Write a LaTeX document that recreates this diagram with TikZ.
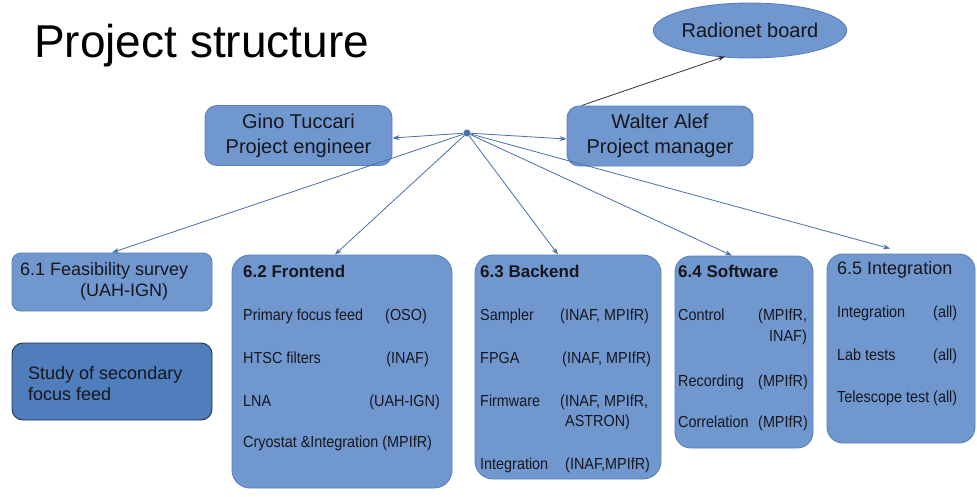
\documentclass[tikz,border=0pt]{standalone}
\usepackage{fontspec}
\setmainfont{Liberation Sans}
\newfontfamily\narrowfont[FakeStretch=0.9]{Liberation Sans}
\usetikzlibrary{arrows.meta,calc,shapes.geometric}
\definecolor{boxfill}{RGB}{112,152,207}
\definecolor{boxline}{RGB}{88,128,188}
\definecolor{darkfill}{RGB}{80,125,188}
\definecolor{darkline}{RGB}{32,48,78}
\definecolor{linkc}{RGB}{72,112,172}
\definecolor{txtc}{RGB}{22,22,30}
\tikzset{
  bx/.style={draw=boxline, fill=boxfill, line width=0.9pt, rounded corners=#1, inner sep=0pt},
  bx/.default=10pt,
  item/.style={anchor=west, inner sep=0pt, text=txtc, text height=11.5pt, text depth=3.2pt,
    font=\narrowfont\fontsize{16}{19}\selectfont},
  iteme/.style={item, anchor=east},
  head/.style={anchor=west, inner sep=0pt, text=txtc, text height=12.5pt, text depth=3.5pt,
    font=\bfseries\fontsize{17}{20}\selectfont},
  headr/.style={anchor=west, inner sep=0pt, text=txtc, text height=13pt, text depth=3.8pt,
    font=\fontsize{18}{21}\selectfont},
  multi/.style={anchor=west, inner sep=0pt, text=txtc, align=left,
    font=\fontsize{18}{21}\selectfont},
  link/.style={draw=linkc, line width=0.8pt, -{Stealth[length=7pt,width=5pt]}},
}
\begin{document}
\begin{tikzpicture}[x=1pt,y=-1pt]
\useasboundingbox (0,0) rectangle (977,496);
\fill[white] (0,0) rectangle (977,496);

% title
\node[anchor=base west, inner sep=0pt, font=\fontsize{46}{50}\selectfont] (title) at (34,57) {Project structure};

% top nodes
\node[ellipse, draw=boxline, fill=boxfill, line width=0.9pt, minimum width=180, minimum height=55,
  inner sep=0pt, font=\fontsize{20}{25}\selectfont, text=txtc] (radio) at (750,30.5) {Radionet board};
\node[bx=12pt, minimum width=187, minimum height=60, align=center, text=txtc,
  font=\fontsize{20}{25}\selectfont] (gino) at (298.5,135.5) {Gino Tuccari\\Project engineer};
\node[bx=12pt, minimum width=186, minimum height=60, align=center, text=txtc,
  font=\fontsize{20}{25}\selectfont] (walter) at (660,136) {Walter Alef\\Project manager};
\node[circle, fill=linkc, inner sep=0pt, minimum size=7pt] (hub) at (467,133) {};

% work-package boxes
\node[bx=9pt, minimum width=200, minimum height=58] (f1) at (112,282) {};
\node[bx=11pt, minimum width=200, minimum height=77, draw=darkline, fill=darkfill] (study) at (112,381.5) {};
\node[bx=18pt, minimum width=220, minimum height=233] (f2) at (342,371.5) {};
\node[bx=18pt, minimum width=186, minimum height=224] (f3) at (568,367) {};
\node[bx=16pt, minimum width=138, minimum height=192] (f4) at (744,352) {};
\node[bx=16pt, minimum width=148, minimum height=189] (f5) at (901,348.5) {};

% connectors
\draw[link] (hub) -- ($(gino.east)+(0,2.5)$);
\draw[link] (hub) -- ($(walter.west)+(0,3)$);
\draw[draw=black!80, line width=0.8pt, -{Stealth[length=7pt,width=5pt]}] ($(walter.north west)+(15,0)$) -- ($(radio.south)+(-25,-2)$);
\draw[link] (hub) -- (f1.north);
\draw[link] (hub) -- ($(f2.north)+(-7,0)$);
\draw[link] (hub) -- ($(f3.north)+(-10,0)$);
\draw[link] (hub) -- ($(f4.north)+(-12,0)$);
\draw[link] (hub) -- ($(f5.north)+(-11,-5)$);

% 6.1
\node[headr] (t1) at (20,271) {6.1 Feasibility survey};
\node[headr] (t1b) at (80,292) {(UAH-IGN)};
\node[multi] (st) at (28,383.5) {Study of secondary\\focus feed};

% 6.2
\node[head] (h2) at (243,273) {6.2 Frontend};
\node[item] (a1) at (243,316) {Primary focus feed};
\node[iteme] (a1r) at (427,316) {(OSO)};
\node[item] (a2) at (243,359) {HTSC filters};
\node[iteme] (a2r) at (429,359) {(INAF)};
\node[item] (a3) at (243,402) {LNA};
\node[iteme] (a3r) at (440,402) {(UAH-IGN)};
\node[item] (a4) at (243,443) {Cryostat \&Integration (MPIfR)};

% 6.3
\node[head] (h3) at (480,273) {6.3 Backend};
\node[item] (b1) at (480,316) {Sampler};
\node[item] (b1r) at (560,316) {(INAF, MPIfR)};
\node[item] (b2) at (480,359) {FPGA};
\node[item] (b2r) at (562,359) {(INAF, MPIfR)};
\node[item] (b3) at (480,402) {Firmware};
\node[item] (b3r) at (560,402) {(INAF, MPIfR,};
\node[item] (b3s) at (565,422) {ASTRON)};
\node[item] (b4) at (480,465) {Integration};
\node[item] (b4r) at (565,465) {(INAF,MPIfR)};

% 6.4
\node[head] (h4) at (678,273) {6.4 Software};
\node[item] (c1) at (678,316) {Control};
\node[item] (c1r) at (758,316) {(MPIfR,};
\node[iteme] (c1s) at (807,337) {INAF)};
\node[item] (c2) at (678,382) {Recording};
\node[item] (c2r) at (758,382) {(MPIfR)};
\node[item] (c3) at (678,423) {Correlation};
\node[item] (c3r) at (758,423) {(MPIfR)};

% 6.5
\node[headr] (h5) at (837,270) {6.5 Integration};
\node[item] (d1) at (837,313) {Integration};
\node[item] (d1r) at (933,313) {(all)};
\node[item] (d2) at (837,356) {Lab tests};
\node[item] (d2r) at (933,356) {(all)};
\node[item] (d3) at (837,398) {Telescope test (all)};
\end{tikzpicture}
\end{document}
